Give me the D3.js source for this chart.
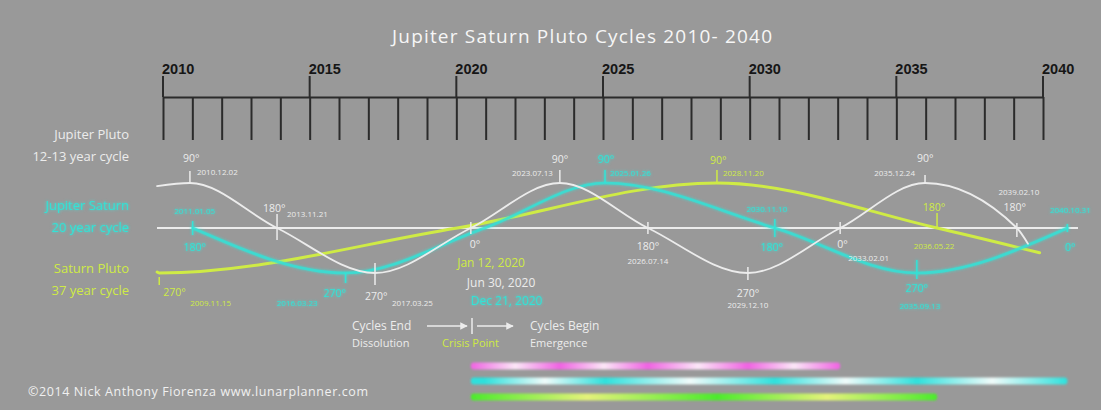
<!DOCTYPE html>
<html>
<head>
<meta charset="utf-8">
<script src="https://cdn.jsdelivr.net/npm/d3@7"></script>
<style>
  html, body { margin: 0; padding: 0; background: #999999; }
  svg { display: block; }
</style>
</head>
<body>
<svg id="chart" width="1101" height="410"></svg>
<script>
// ---------------- data ----------------
const chartTitle = "Jupiter Saturn Pluto Cycles 2010- 2040";
const yearTicks = d3.range(2010, 2041);
const yearLabels = [2010, 2015, 2020, 2025, 2030, 2035, 2040];

const cycleNames = ["Jupiter Pluto", "Jupiter Saturn", "Saturn Pluto"];
const cycleSpans = ["12-13 year cycle", "20 year cycle", "37 year cycle"];

// Jupiter–Pluto phase points (white curve)
const jpDates  = ["2009.10.19", "2010.12.02", "2013.11.21", "2017.03.25", "Jun 30, 2020", "2023.07.13",
                  "2026.07.14", "2029.12.10", "2033.02.01", "2035.12.24", "2039.02.10", "2039.06.28"];
const jpValues = [0.93, 1, 0, -1, 0, 1, 0, -1, 0, 1, 0, -0.35];
const jpAngles = [null, 90, 180, 270, 0, 90, 180, 270, 0, 90, 180, null];

// Jupiter–Saturn phase points (cyan curve)
const jsDates  = ["2011.01.05", "2016.03.23", "Dec 21, 2020", "2025.01.26", "2030.11.10", "2035.09.13", "2040.10.31"];
const jsValues = [0, -1, 0, 1, 0, -1, 0];
const jsAngles = [180, 270, 0, 90, 180, 270, 0];

// Saturn–Pluto phase points (yellow-green curve)
const spDates  = ["2009.10.20", "2009.11.15", "Jan 12, 2020", "2028.11.20", "2036.05.22", "2039.11.20"];
const spValues = [-0.98, -1, 0, 1, 0, -0.55];
const spAngles = [null, 270, 0, 90, 180, null];

const legendLeft  = ["Cycles End", "Dissolution"];
const legendMid   = "Crisis Point";
const legendRight = ["Cycles Begin", "Emergence"];
const credit = "\u00A92014 Nick Anthony Fiorenza  www.lunarplanner.com";

// ---------------- helpers ----------------
const parseDot = d3.timeParse("%Y.%m.%d");
const parseLong = d3.timeParse("%b %d, %Y");
function toYear(s) {
  const d = parseDot(s) || parseLong(s);
  const yr = d.getFullYear();
  const a = new Date(yr, 0, 1), b = new Date(yr + 1, 0, 1);
  return yr + (d - a) / (b - a);
}
function points(dates, values, angles) {
  return dates.map((s, i) => ({ date: s, year: toYear(s), value: values[i], angle: angles[i] }));
}

const W = 1101, H = 410;
const FONT = "'Open Sans', 'DejaVu Sans', sans-serif";
const colors = {
  bg: "#999999", white: "#ececec", cyan: "#34e2d6", yellow: "#cfeb45",
  pink: "#f06ee4", axis: "#2b2b2b", year: "#161616"
};

const svg = d3.select("#chart");
svg.append("rect").attr("width", W).attr("height", H).attr("fill", colors.bg);

const defs = svg.append("defs");
const glow = defs.append("filter").attr("id", "glow")
  .attr("x", "-30%").attr("y", "-80%").attr("width", "160%").attr("height", "260%");
glow.append("feGaussianBlur").attr("in", "SourceGraphic").attr("stdDeviation", 1.8).attr("result", "b");
const gm = glow.append("feMerge");
gm.append("feMergeNode").attr("in", "b");
gm.append("feMergeNode").attr("in", "SourceGraphic");

const soft = defs.append("filter").attr("id", "soft")
  .attr("x", "-5%").attr("y", "-100%").attr("width", "110%").attr("height", "300%");
soft.append("feGaussianBlur").attr("stdDeviation", 0.8);

// ---------------- scales ----------------
const x = d3.scaleLinear().domain([2010, 2040]).range([163, 1043]);
const y = d3.scaleLinear().domain([-1, 1]).range([273, 183]);

// ---------------- title ----------------
svg.append("text").attr("x", 582).attr("y", 43).attr("text-anchor", "middle")
  .attr("font-family", FONT).attr("font-size", 19).attr("fill", "#f6f6f6")
  .attr("textLength", 380).attr("lengthAdjust", "spacing")
  .text(chartTitle);

// ---------------- timeline axis ----------------
const axisG = svg.append("g").attr("transform", "translate(0,97)")
  .call(d3.axisBottom(x).tickValues(yearTicks).tickSize(43).tickSizeOuter(0).tickFormat(""));
axisG.select(".domain").attr("stroke", colors.axis).attr("stroke-width", 2);
axisG.selectAll(".tick line").attr("stroke", colors.axis).attr("stroke-width", 2);

const major = svg.append("g");
major.selectAll("line").data(yearLabels).join("line")
  .attr("x1", d => x(d)).attr("x2", d => x(d)).attr("y1", 76).attr("y2", 97)
  .attr("stroke", colors.axis).attr("stroke-width", 2);
major.selectAll("text").data(yearLabels).join("text")
  .attr("x", d => x(d) - 1).attr("y", 74)
  .attr("font-family", "'Liberation Sans', Arial, sans-serif").attr("font-weight", "bold")
  .attr("font-size", 14.5).attr("fill", colors.year).text(d => d);

// ---------------- cycle names ----------------
const nameColors = [colors.white, colors.cyan, colors.yellow];
const nameBase = [139, 210, 273];
cycleNames.forEach((n, i) => {
  const g = svg.append("g").attr("font-family", FONT).attr("font-size", 13)
    .attr("fill", nameColors[i]).attr("text-anchor", "end")
    .attr("filter", i === 1 ? "url(#glow)" : null);
  g.append("text").attr("x", 129).attr("y", nameBase[i]).text(n);
  g.append("text").attr("x", 129).attr("y", nameBase[i] + 22).text(cycleSpans[i]);
});

// ---------------- zero line ----------------
svg.append("line").attr("x1", 157).attr("x2", 1078).attr("y1", y(0)).attr("y2", y(0))
  .attr("stroke", "#ececec").attr("stroke-width", 2);

// ---------------- series ----------------
const jp = points(jpDates, jpValues, jpAngles);
const js = points(jsDates, jsValues, jsAngles);
const sp = points(spDates, spValues, spAngles);

const line = d3.line().x(d => x(d.year)).y(d => y(d.value)).curve(d3.curveMonotoneX);

// label placement: angle text [dx, dy, anchor], date text [dx, dy, anchor, size], tick [top, bottom], marker [y1, y2]
const jpLayout = [
  null,
  { a: [-7, -21, "start"], d: [7, -8, "start"], t: [-12, 0] },
  { a: [-14, -16, "start"], d: [10, -11, "start"], t: [-14, 12] },
  { a: [-10, 27, "start"], d: [17, 33, "start"], t: [-10, 12] },
  { a: [-1, 20, "start"], d: [-4, 59, "start", 12], t: [-6, 6], m: [150, 213] },
  { a: [-8, -20, "start"], d: [-7, -7, "end"], t: [-13, 0] },
  { a: [0, 22, "middle"], d: [0, 36, "middle"], t: [-6, 6] },
  { a: [0, 24, "middle"], d: [0, 35, "middle"], t: [-6, 7] },
  { a: [-3, 20, "start"], d: [8, 33, "start"], t: [-6, 6] },
  { a: [-8, -21, "start"], d: [-10, -7, "end"], t: [-8, 0] },
  { a: [-2, -17, "middle"], d: [2, -33, "middle"], t: [-5, 9] },
  null
];
const jsLayout = [
  { a: [2, 23, "middle"], d: [2, -14, "middle"], t: [-7, 7] },
  { a: [-22, 24, "start"], d: [-28, 33, "end"], t: [0, 10] },
  { a: null, d: [-14, 77, "start", 12], t: null, m: [150, 212] },
  { a: [1, -20, "middle"], d: [5, -7, "start"], t: [-13, 0] },
  { a: [-3, 23, "middle"], d: [-8, -16, "middle"], t: [-9, 9] },
  { a: [0, 19, "middle"], d: [3, 36, "middle"], t: [-13, 6] },
  { a: [3, 23, "middle"], d: [3, -15, "middle"], t: [-4, 4] }
];
const spLayout = [
  null,
  { a: [4, 23, "start"], d: [31, 33, "start"], t: [4, 12] },
  { a: null, d: [0, 39, "start", 12], t: null, m: [150, 213] },
  { a: [-7, -19, "start"], d: [6, -7, "start"], t: [-13, 0] },
  { a: [-3, -17, "middle"], d: [-3, 21, "middle"], t: [-15, 0] },
  null
];
const markerColors = { jp: "#f4a4ee", js: "#3fe4e0", sp: "#a6ec52" };

function drawSeries(key, pts, layout, color, width, useGlow) {
  const g = svg.append("g");
  // conjunction markers above the crossing
  pts.forEach((p, i) => {
    const L = layout[i];
    if (L && L.m) {
      g.append("line").attr("x1", x(p.year)).attr("x2", x(p.year))
        .attr("y1", L.m[0]).attr("y2", L.m[1])
        .attr("stroke", markerColors[key]).attr("stroke-width", 2.5)
        .attr("filter", "url(#soft)");
    }
  });
  g.append("path").datum(pts).attr("d", line).attr("fill", "none")
    .attr("stroke", color).attr("stroke-width", width).attr("stroke-linecap", "round")
    .attr("opacity", useGlow ? 0.9 : 1)
    .attr("filter", useGlow ? "url(#glow)" : null);
  const lab = g.append("g").attr("font-family", FONT).attr("fill", color)
    .attr("filter", useGlow ? "url(#glow)" : null);
  pts.forEach((p, i) => {
    const L = layout[i];
    if (!L) return;
    const px = x(p.year), py = y(p.value);
    if (L.t) {
      lab.append("line").attr("x1", px).attr("x2", px).attr("y1", py + L.t[0]).attr("y2", py + L.t[1])
        .attr("stroke", color).attr("stroke-width", 1.5);
    }
    if (L.a && p.angle !== null) {
      lab.append("text").attr("x", px + L.a[0]).attr("y", py + L.a[1]).attr("text-anchor", L.a[2])
        .attr("font-size", 10.5).text(p.angle + "\u00B0");
    }
    if (L.d) {
      lab.append("text").attr("x", px + L.d[0]).attr("y", py + L.d[1]).attr("text-anchor", L.d[2])
        .attr("font-size", L.d[3] || 8).text(p.date);
    }
  });
}

drawSeries("sp", sp, spLayout, colors.yellow, 3, false);
drawSeries("js", js, jsLayout, colors.cyan, 2.6, true);
drawSeries("jp", jp, jpLayout, colors.white, 1.8, false);

// ---------------- legend ----------------
const leg = svg.append("g").attr("font-family", FONT).attr("fill", colors.white);
leg.append("text").attr("x", 352).attr("y", 330).attr("font-size", 12).text(legendLeft[0]);
leg.append("text").attr("x", 352).attr("y", 347).attr("font-size", 11).text(legendLeft[1]);
leg.append("text").attr("x", 530).attr("y", 330).attr("font-size", 12).text(legendRight[0]);
leg.append("text").attr("x", 530).attr("y", 347).attr("font-size", 11).text(legendRight[1]);
leg.append("text").attr("x", 442).attr("y", 347).attr("font-size", 11).attr("fill", colors.yellow).text(legendMid);

defs.append("marker").attr("id", "arrow").attr("viewBox", "0 0 10 10").attr("refX", 9).attr("refY", 5)
  .attr("markerWidth", 5).attr("markerHeight", 5).attr("orient", "auto")
  .append("path").attr("d", "M0,0 L10,5 L0,10 z").attr("fill", colors.white);
[[427, 467], [477, 513]].forEach(([a, b]) => {
  leg.append("line").attr("x1", a).attr("x2", b).attr("y1", 326).attr("y2", 326)
    .attr("stroke", colors.white).attr("stroke-width", 1.5).attr("marker-end", "url(#arrow)");
});
leg.append("line").attr("x1", 472).attr("x2", 472).attr("y1", 318).attr("y2", 334)
  .attr("stroke", colors.white).attr("stroke-width", 1.5);

// ---------------- cycle bars ----------------
const barStart = jp[4].year;
const bars = [
  { key: "jp", pts: jp.filter(p => p.angle !== null && p.year >= barStart && p.year <= jp[8].year), strong: "#f062e2", pale: "#fbe6f7", yc: 366 },
  { key: "js", pts: js.filter(p => p.year >= js[2].year), strong: "#2fe0dc", pale: "#f0fbfa", yc: 381 },
  { key: "sp", pts: sp.filter(p => p.angle !== null && p.year >= sp[2].year), strong: "#4cea2c", pale: "#e4f27a", yc: 397 }
];
bars.forEach((b, bi) => {
  const y0 = barStart, y1 = b.pts[b.pts.length - 1].year;
  const gid = "bar" + bi;
  const grad = defs.append("linearGradient").attr("id", gid).attr("gradientUnits", "userSpaceOnUse")
    .attr("x1", x(y0)).attr("x2", x(y1)).attr("y1", 0).attr("y2", 0);
  const span = y1 - y0;
  const stops = [];
  stops.push({ o: 0, c: b.strong });
  b.pts.forEach((p, i) => {
    if (i > 0) stops.push({ o: ((b.pts[i - 1].year + p.year) / 2 - y0) / span, c: b.pale });
    stops.push({ o: Math.max(0, (p.year - y0) / span), c: b.strong });
  });
  stops.sort((a, c) => a.o - c.o).forEach(s =>
    grad.append("stop").attr("offset", Math.min(1, s.o)).attr("stop-color", s.c));
  svg.append("rect").attr("x", x(y0)).attr("y", b.yc - 3.5).attr("width", x(y1) - x(y0)).attr("height", 7)
    .attr("rx", 3).attr("fill", `url(#${gid})`).attr("filter", "url(#soft)");
});

// ---------------- credit ----------------
svg.append("text").attr("x", 28).attr("y", 396).attr("font-family", FONT).attr("font-size", 12.5)
  .attr("fill", "#f0f0f0").attr("textLength", 340).attr("lengthAdjust", "spacing").text(credit);
</script>
</body>
</html>
